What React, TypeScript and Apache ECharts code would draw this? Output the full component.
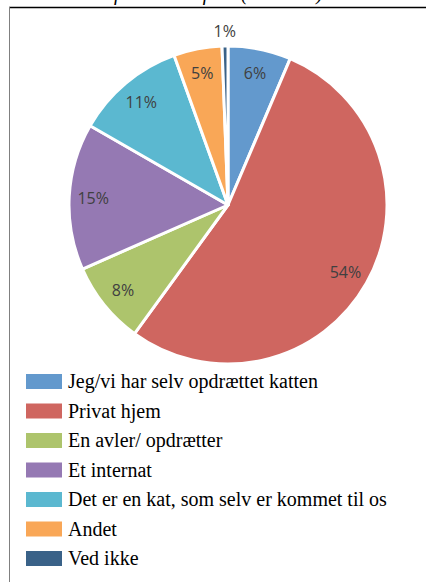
import React, { useEffect, useRef } from "react";
import * as echarts from "echarts";

const categories = [
  "Jeg/vi har selv opdrættet katten",
  "Privat hjem",
  "En avler/ opdrætter",
  "Et internat",
  "Det er en kat, som selv er kommet til os",
  "Andet",
  "Ved ikke",
];
const values = [6.4, 53.6, 8.4, 14.9, 11.2, 4.9, 0.6];
const colors = ["#6399CD", "#CF6660", "#ADC46C", "#9579B3", "#5BB8D0", "#F9A757", "#3A6288"];
const titleText = "Hvor har du fået katten fra? (n=1.016)";

export default function App() {
  const ref = useRef<HTMLDivElement>(null);
  useEffect(() => {
    if (!ref.current) return;
    const chart = echarts.init(ref.current, undefined, { renderer: "svg" });
    const cx = 228;
    const cy = 205;
    const R = 159;
    const labelStyle = {
      fontFamily: "Open Sans",
      fontSize: 16,
      color: "#404040",
    };
    const fmt = (p: any) => `${Math.round(p.value)}%`;
    const base = categories.map((name, i) => ({ name, value: values[i] }));
    const ringData = base.map((d) =>
      d.value < 1 ? { ...d, label: { show: false } } : d
    );
    const outerData = base.map((d) =>
      d.value < 1 ? d : { ...d, label: { show: false } }
    );
    const ghost = {
      type: "pie",
      center: [cx, cy],
      startAngle: 90,
      clockwise: true,
      silent: true,
      emphasis: { disabled: true },
      itemStyle: { color: "rgba(0,0,0,0)", borderWidth: 0 },
      labelLine: { show: false },
      label: { show: true, position: "inside", formatter: fmt, ...labelStyle },
    };
    const serif = "Liberation Serif, Times New Roman, serif";
    const legendTop = 374;
    const legendStep = 29.5;
    const legendRects = categories.map((_, i) => ({
      type: "rect",
      silent: true,
      shape: { x: 26, y: legendTop + i * legendStep, width: 36, height: 15 },
      style: { fill: colors[i] },
    }));
    const legendTexts = categories.map((name, i) => ({
      type: "text",
      silent: true,
      x: 68,
      y: legendTop + i * legendStep - 3,
      style: {
        text: name,
        fontFamily: serif,
        fontSize: 20,
        fill: "#000",
      },
    }));
    chart.setOption({
      animation: false,
      color: colors,
      graphic: [
        {
          type: "text",
          x: 10,
          y: -17,
          silent: true,
          style: {
            text: titleText,
            fontFamily: serif,
            fontStyle: "italic",
            fontSize: 20,
            fill: "#000",
          },
        },
        {
          type: "line",
          shape: { x1: 9, y1: 7.5, x2: 426, y2: 7.5 },
          style: { stroke: "#000", lineWidth: 1.5 },
        },
        {
          type: "line",
          shape: { x1: 9.5, y1: 7, x2: 9.5, y2: 582 },
          style: { stroke: "#808080", lineWidth: 1 },
        },
        ...legendRects,
        ...legendTexts,
      ],
      series: [
        {
          type: "pie",
          center: [cx, cy],
          radius: [0, R],
          startAngle: 90,
          clockwise: true,
          data: base,
          label: { show: false },
          labelLine: { show: false },
          emphasis: { disabled: true },
          silent: true,
          itemStyle: { borderColor: "#fff", borderWidth: 3 },
        },
        { ...ghost, radius: [R * 0.66, R], data: ringData },
        { ...ghost, radius: [R + 4, R + 20], data: outerData },
      ],
    });
    return () => chart.dispose();
  }, []);
  return (
    <div
      ref={ref}
      style={{ position: "absolute", left: 0, top: 0, width: 426, height: 582 }}
    />
  );
}
